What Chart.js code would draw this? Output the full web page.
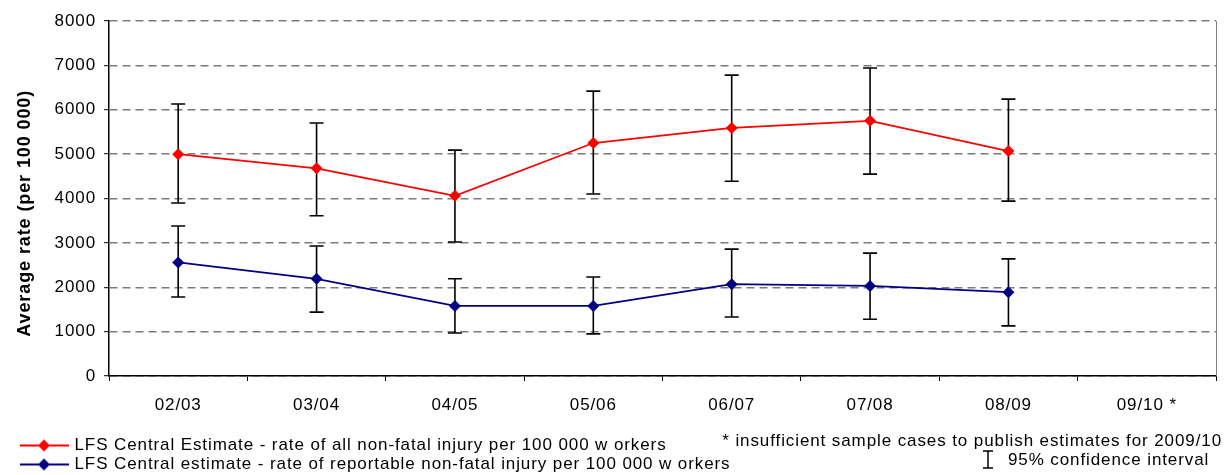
<!DOCTYPE html>
<html>
<head>
<meta charset="utf-8">
<script src="https://cdn.jsdelivr.net/npm/chart.js@4.4.1/dist/chart.umd.min.js"></script>
<style>
  html, body { margin: 0; padding: 0; background: #fff; overflow: hidden; }
  #caja { width: 1228px; height: 475px; }
</style>
</head>
<body>
<div id="caja"><canvas id="lesiones"></canvas></div>
<script>
var periodos = ['02/03', '03/04', '04/05', '05/06', '06/07', '07/08', '08/09', '09/10 *'];

// todas las lesiones no mortales (tasa por 100 000)
var todas = [5000, 4680, 4060, 5250, 5590, 5750, 5070, null];
var todasAlto = [6130, 5700, 5090, 6420, 6780, 6940, 6240, null];
var todasBajo = [3900, 3610, 3020, 4100, 4390, 4550, 3940, null];

// lesiones notificables
var notificables = [2560, 2190, 1580, 1580, 2070, 2030, 1890, null];
var notifAlto = [3380, 2930, 2190, 2230, 2860, 2770, 2640, null];
var notifBajo = [1780, 1440, 970, 950, 1330, 1280, 1130, null];

var etiquetas = [
  'LFS Central Estimate - rate of all non-fatal injury per 100 000 w orkers',
  'LFS Central estimate - rate of reportable non-fatal injury per 100 000 w orkers'
];
var notaMuestra = '* insufficient sample cases to publish estimates for 2009/10';
var notaIntervalo = '95% confidence interval';

var fuente = 'Liberation Sans, Arial, sans-serif';
var espaciado = '0.9px';

function marcaLeyenda(color) {
  var c = document.createElement('canvas');
  c.width = 64; c.height = 14;
  var g = c.getContext('2d');
  g.strokeStyle = color;
  g.lineWidth = 1.8;
  g.beginPath(); g.moveTo(13, 7); g.lineTo(62, 7); g.stroke();
  g.fillStyle = color;
  g.beginPath();
  g.moveTo(37, 1); g.lineTo(43, 7); g.lineTo(37, 13); g.lineTo(31, 7);
  g.closePath(); g.fill();
  return c;
}
var marcas = [marcaLeyenda('#FF0000'), marcaLeyenda('#000080')];

var espacioLetras = {
  id: 'espacioLetras',
  beforeUpdate: function (chart) { chart.ctx.letterSpacing = espaciado; },
  beforeDraw: function (chart) { chart.ctx.letterSpacing = espaciado; }
};

var barrasError = {
  id: 'barrasError',
  beforeDatasetsDraw: function (chart) {
    var ctx = chart.ctx;
    var y = chart.scales.y;
    var rangos = [[todasAlto, todasBajo], [notifAlto, notifBajo]];
    ctx.save();
    ctx.strokeStyle = '#000';
    ctx.lineWidth = 1.6;
    rangos.forEach(function (r, d) {
      var meta = chart.getDatasetMeta(d);
      meta.data.forEach(function (pt, i) {
        if (r[0][i] == null) return;
        var x = pt.x;
        var y1 = y.getPixelForValue(r[0][i]);
        var y2 = y.getPixelForValue(r[1][i]);
        ctx.beginPath();
        ctx.moveTo(x, y1); ctx.lineTo(x, y2);
        ctx.moveTo(x - 7, y1); ctx.lineTo(x + 7, y1);
        ctx.moveTo(x - 7, y2); ctx.lineTo(x + 7, y2);
        ctx.stroke();
      });
    });
    ctx.restore();
  },
  afterDraw: function (chart) {
    var ctx = chart.ctx;
    var a = chart.chartArea;
    ctx.save();
    ctx.strokeStyle = '#808080';
    ctx.lineWidth = 1;
    ctx.beginPath(); ctx.moveTo(a.right + 0.5, a.top); ctx.lineTo(a.right + 0.5, a.bottom); ctx.stroke();

    ctx.letterSpacing = espaciado;
    ctx.fillStyle = '#000';
    ctx.font = '17px ' + fuente;
    ctx.textBaseline = 'middle';
    ctx.textAlign = 'right';
    ctx.fillText(notaMuestra, 1222, 441);
    ctx.textAlign = 'left';
    ctx.fillText(notaIntervalo, 1008, 460);

    // simbolo del intervalo
    ctx.strokeStyle = '#000';
    ctx.lineWidth = 1.5;
    ctx.beginPath();
    ctx.moveTo(988, 451); ctx.lineTo(988, 468);
    ctx.moveTo(983, 451); ctx.lineTo(993, 451);
    ctx.moveTo(983, 468); ctx.lineTo(993, 468);
    ctx.stroke();
    ctx.restore();
  }
};

var ctx = document.getElementById('lesiones').getContext('2d');
var grafico = new Chart(ctx, {
  type: 'line',
  data: {
    labels: periodos,
    datasets: [
      {
        label: etiquetas[0],
        data: todas,
        borderColor: '#FF0000',
        backgroundColor: '#FF0000',
        borderWidth: 1.8,
        pointStyle: 'rectRot',
        pointRadius: 6,
        pointBorderWidth: 0,
        fill: false
      },
      {
        label: etiquetas[1],
        data: notificables,
        borderColor: '#000080',
        backgroundColor: '#000080',
        borderWidth: 1.8,
        pointStyle: 'rectRot',
        pointRadius: 6,
        pointBorderWidth: 0,
        fill: false
      }
    ]
  },
  options: {
    responsive: true,
    maintainAspectRatio: false,
    animation: false,
    layout: { padding: { left: 10, right: 12, top: 21, bottom: -8 } },
    plugins: {
      tooltip: { enabled: false },
      legend: {
        position: 'bottom',
        align: 'start',
        labels: {
          usePointStyle: true,
          pointStyleWidth: 54,
          padding: 2,
          color: '#000',
          font: { family: fuente, size: 17 },
          generateLabels: function (chart) {
            var items = Chart.defaults.plugins.legend.labels.generateLabels(chart);
            items.forEach(function (it, i) { it.pointStyle = marcas[i]; });
            return items;
          }
        }
      }
    },
    scales: {
      x: {
        offset: true,
        grid: {
          offset: true,
          drawOnChartArea: false,
          drawTicks: true,
          tickLength: 5,
          tickColor: '#000',
          tickWidth: 1
        },
        border: { color: '#000', width: 1.5 },
        ticks: {
          color: '#000',
          padding: 14,
          maxRotation: 0,
          font: { family: fuente, size: 17 }
        },
        afterFit: function (s) { s.height = 59; }
      },
      y: {
        min: 0,
        max: 8000,
        ticks: {
          stepSize: 1000,
          color: '#000',
          padding: 8,
          font: { family: fuente, size: 17 },
          callback: function (v) { return String(v); }
        },
        grid: {
          color: '#7a7a7a',
          lineWidth: 1.4,
          tickLength: 5,
          tickColor: '#000',
          tickWidth: 1,
          tickBorderDash: []
        },
        border: { color: '#000', width: 1.5, dash: [8, 5] },
        title: {
          display: true,
          text: 'Average rate (per 100 000)     ',
          color: '#000',
          padding: { top: 4, bottom: 0 },
          font: { family: fuente, size: 18, weight: 'bold' }
        },
        afterFit: function (s) { s.width = 99; }
      }
    }
  },
  plugins: [espacioLetras, barrasError]
});
</script>
</body>
</html>
